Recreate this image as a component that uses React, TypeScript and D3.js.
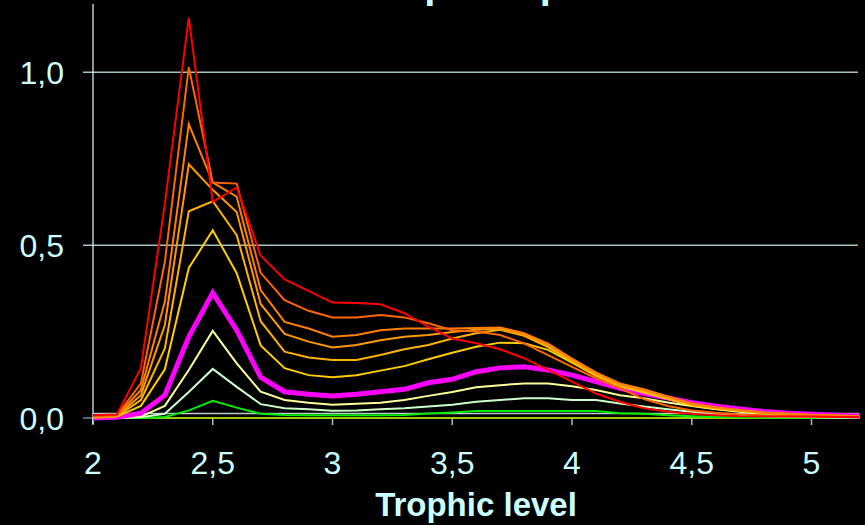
import React from 'react';
import * as d3 from 'd3';

// trophic levels (x) and one array of values per curve
const levels = [2.0, 2.1, 2.2, 2.3, 2.4, 2.5, 2.6, 2.7, 2.8, 2.9, 3.0, 3.1, 3.2, 3.3, 3.4, 3.5, 3.6,
  3.7, 3.8, 3.9, 4.0, 4.1, 4.2, 4.3, 4.4, 4.5, 4.6, 4.7, 4.8, 4.9, 5.0, 5.1, 5.2];

const redVals = [0.008, 0.01, 0.144, 0.62, 1.158, 0.625, 0.667, 0.47, 0.401, 0.368, 0.334, 0.333, 0.329, 0.303, 0.264, 0.23, 0.216,
  0.199, 0.173, 0.139, 0.105, 0.071, 0.047, 0.028, 0.018, 0.012, 0.008, 0.005, 0.004, 0.004, 0.004, 0.003, 0.003];
const orangeRedVals = [0.005, 0.008, 0.1, 0.452, 1.015, 0.681, 0.678, 0.42, 0.341, 0.31, 0.291, 0.291, 0.298, 0.291, 0.274, 0.254, 0.25,
  0.24, 0.216, 0.182, 0.148, 0.115, 0.086, 0.055, 0.035, 0.022, 0.015, 0.01, 0.007, 0.005, 0.004, 0.003, 0.003];
const orangeVals = [0.004, 0.007, 0.081, 0.336, 0.85, 0.681, 0.64, 0.37, 0.278, 0.259, 0.235, 0.24, 0.254, 0.259, 0.259, 0.259, 0.26,
  0.262, 0.245, 0.215, 0.172, 0.132, 0.1, 0.083, 0.062, 0.042, 0.031, 0.023, 0.016, 0.012, 0.009, 0.007, 0.005];
const darkGoldVals = [0.003, 0.006, 0.066, 0.269, 0.734, 0.66, 0.596, 0.33, 0.243, 0.221, 0.204, 0.211, 0.225, 0.235, 0.24, 0.249, 0.255,
  0.258, 0.24, 0.21, 0.168, 0.128, 0.097, 0.08, 0.06, 0.04, 0.03, 0.022, 0.016, 0.012, 0.009, 0.007, 0.005];
const goldVals = [0.002, 0.005, 0.052, 0.201, 0.598, 0.627, 0.529, 0.28, 0.192, 0.175, 0.168, 0.168, 0.182, 0.199, 0.211, 0.23, 0.245,
  0.255, 0.238, 0.205, 0.163, 0.125, 0.094, 0.077, 0.057, 0.038, 0.029, 0.021, 0.015, 0.011, 0.008, 0.006, 0.005];
const yellowVals = [0.001, 0.004, 0.035, 0.141, 0.434, 0.543, 0.419, 0.21, 0.144, 0.124, 0.118, 0.124, 0.137, 0.15, 0.17, 0.189, 0.206,
  0.218, 0.216, 0.197, 0.16, 0.122, 0.092, 0.074, 0.055, 0.036, 0.027, 0.02, 0.014, 0.01, 0.008, 0.006, 0.004];
const magentaVals = [0, 0.002, 0.014, 0.066, 0.235, 0.362, 0.254, 0.118, 0.076, 0.069, 0.064, 0.069, 0.076, 0.083, 0.102, 0.112, 0.134,
  0.145, 0.148, 0.139, 0.124, 0.105, 0.086, 0.071, 0.058, 0.044, 0.034, 0.026, 0.019, 0.014, 0.011, 0.008, 0.006];
const lightYellowVals = [0, 0, 0.004, 0.035, 0.139, 0.252, 0.158, 0.076, 0.052, 0.044, 0.038, 0.041, 0.044, 0.052, 0.064, 0.075, 0.089,
  0.095, 0.1, 0.1, 0.092, 0.081, 0.066, 0.057, 0.045, 0.035, 0.025, 0.018, 0.012, 0.008, 0.005, 0.004, 0.003];
const paleGreenVals = [0, 0, 0.002, 0.012, 0.075, 0.142, 0.09, 0.04, 0.028, 0.025, 0.021, 0.022, 0.025, 0.028, 0.033, 0.038, 0.047,
  0.052, 0.057, 0.057, 0.052, 0.052, 0.042, 0.033, 0.025, 0.018, 0.012, 0.008, 0.005, 0.003, 0.002, 0.001, 0.001];
const greenVals = [0, 0, 0, 0.003, 0.022, 0.05, 0.03, 0.012, 0.009, 0.008, 0.008, 0.008, 0.008, 0.009, 0.013, 0.016, 0.02,
  0.02, 0.02, 0.02, 0.02, 0.02, 0.014, 0.012, 0.008, 0.005, 0.003, 0.002, 0.001, 0, 0, 0, 0];
const oliveVals = [0, 0, 0, 0, 0, 0, 0, 0, 0, 0, 0, 0, 0, 0, 0, 0, 0,
  0, 0, 0, 0, 0, 0, 0, 0, 0, 0, 0, 0, 0, 0, 0, 0];
const greyVals = [0.013, 0.013, 0.013, 0.013, 0.013, 0.013, 0.013, 0.013, 0.013, 0.013, 0.013, 0.013, 0.013, 0.013, 0.013, 0.013, 0.013,
  0.013, 0.013, 0.013, 0.013, 0.013, 0.013, 0.013, 0.013, 0.013, 0.013, 0.013, 0.013, 0.013, 0.013, 0.013, 0.013];

const xTicks = [2, 2.5, 3, 3.5, 4, 4.5, 5];
const yTicks = [0, 0.5, 1];

const titleText = 'Trophic spectra';
const xLabel = 'Trophic level';

// drawn back to front
const series = [
  { values: oliveVals, color: '#99cc00', width: 2 },
  { values: greyVals, color: '#b8cccc', width: 1.5 },
  { values: greenVals, color: '#00ee00', width: 2 },
  { values: paleGreenVals, color: '#ccffcc', width: 2 },
  { values: lightYellowVals, color: '#ffff99', width: 2 },
  { values: magentaVals, color: '#ff00ff', width: 5 },
  { values: yellowVals, color: '#ffcc00', width: 2 },
  { values: goldVals, color: '#ffb300', width: 2 },
  { values: darkGoldVals, color: '#ff9900', width: 2 },
  { values: orangeVals, color: '#ff8000', width: 2 },
  { values: orangeRedVals, color: '#ff6600', width: 2 },
  { values: redVals, color: '#ff0000', width: 2 },
];

const commaLocale = d3.formatLocale({ decimal: ',', thousands: '.', grouping: [3], currency: ['', ''] });
const fmtX = commaLocale.format('~g');
const fmtY = commaLocale.format('.1f');

const App = () => {
  const width = 865;
  const height = 525;
  const textColor = '#ccffff';
  const gridColor = '#9fc4c4';
  const font = '"Liberation Sans", Arial, sans-serif';

  const xScale = d3.scaleLinear().domain([2, 5.2]).range([93, 859.4]);
  const yScale = d3.scaleLinear().domain([0, 1]).range([418, 72.3]);

  const line = d3.line<number>()
    .x((d, i) => xScale(levels[i]))
    .y(d => yScale(d));

  return (
    <div style={{ position: 'fixed', left: 0, top: 0, width, height, background: '#000' }}>
      <svg width={width} height={height} style={{ display: 'block' }}>
        <rect x={0} y={0} width={width} height={height} fill="#000" />

        {/* title, mostly above the frame */}
        <text x={362} y={-2} fill={textColor} fontFamily={font} fontWeight="bold" fontSize={40}>{titleText}</text>

        {/* gridlines */}
        {yTicks.filter(t => t > 0).map(t => (
          <line key={'g' + t} x1={83} x2={858} y1={yScale(t)} y2={yScale(t)} stroke={gridColor} strokeWidth={1.5} />
        ))}

        {/* x axis with ticks */}
        <line x1={83} x2={858} y1={yScale(0)} y2={yScale(0)} stroke="#6f8e8e" strokeWidth={1.5} />
        {xTicks.map(t => (
          <line key={'xt' + t} x1={xScale(t)} x2={xScale(t)} y1={yScale(0)} y2={yScale(0) + 7} stroke={gridColor} strokeWidth={1.5} />
        ))}

        {/* y axis */}
        <line x1={93} x2={93} y1={4} y2={424} stroke="#e6ffff" strokeWidth={1.2} />

        {/* curves */}
        <g fill="none" strokeLinejoin="miter">
          {series.map((s, i) => (
            <path key={i} d={line(s.values) || ''} stroke={s.color} strokeWidth={s.width} />
          ))}
        </g>

        {/* tick labels */}
        {yTicks.map(t => (
          <text key={'yl' + t} x={64} y={yScale(t)} dy="0.36em" textAnchor="end" fill={textColor} fontFamily={font} fontSize={32}>
            {fmtY(t)}
          </text>
        ))}
        {xTicks.map(t => (
          <text key={'xl' + t} x={xScale(t)} y={474} textAnchor="middle" fill={textColor} fontFamily={font} fontSize={32}>
            {fmtX(t)}
          </text>
        ))}

        <text x={476} y={516} textAnchor="middle" fill={textColor} fontFamily={font} fontWeight="bold" fontSize={33}>{xLabel}</text>
      </svg>
    </div>
  );
};

export default App;
